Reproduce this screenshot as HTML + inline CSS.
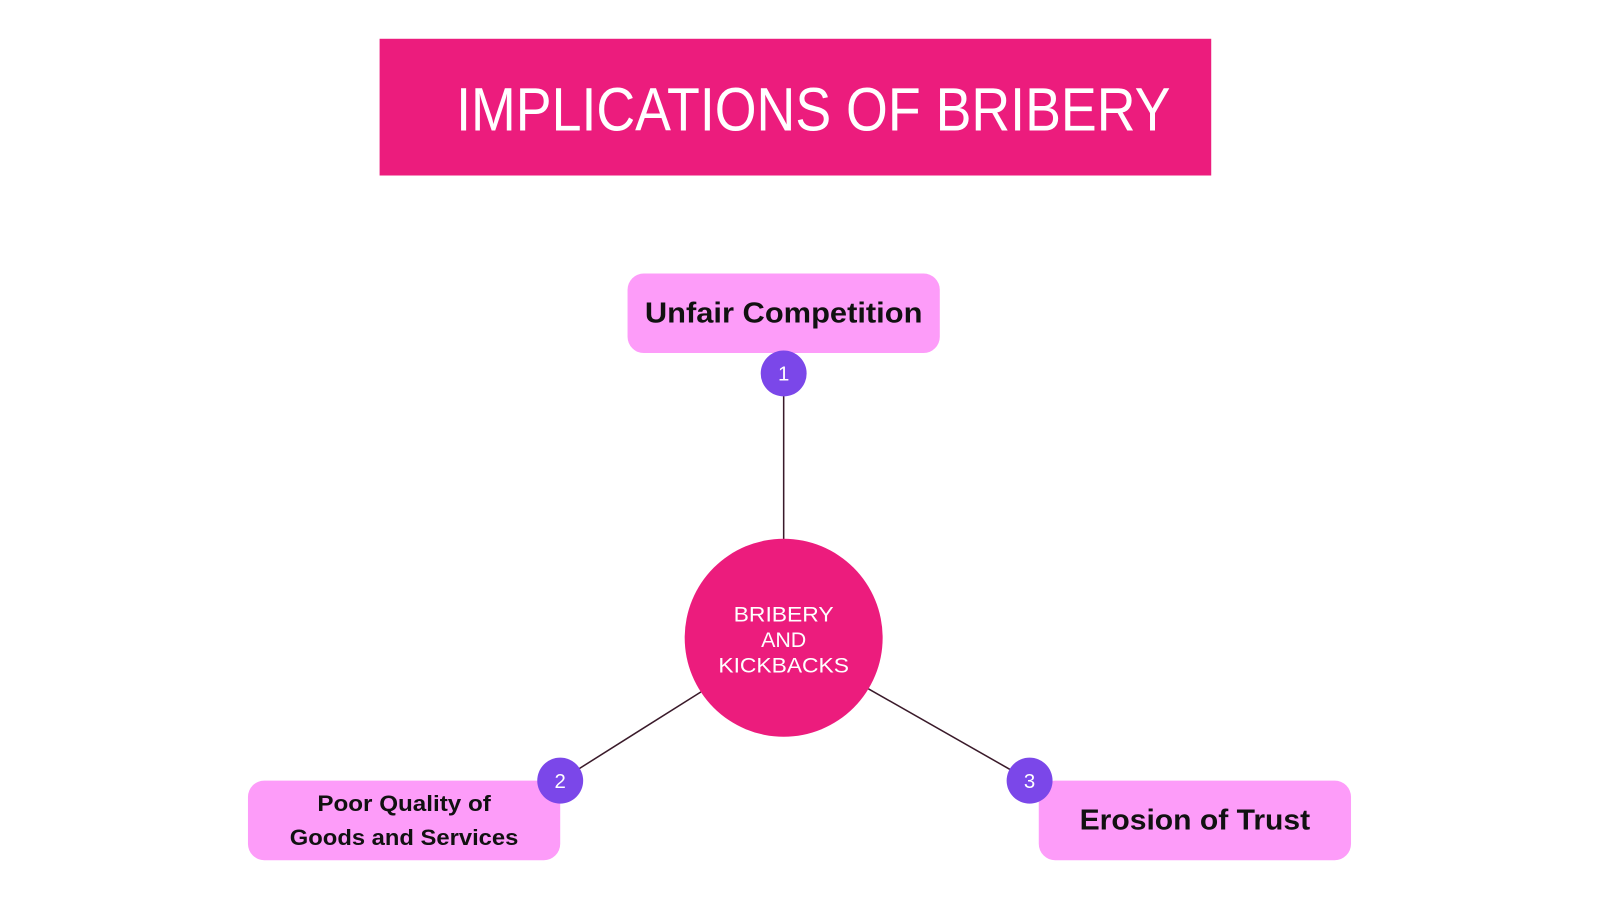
<!DOCTYPE html>
<html><head><meta charset="utf-8"><style>html,body{margin:0;padding:0;background:#fff}</style></head>
<body>
<svg width="1600" height="900" viewBox="0 0 1568 882" xmlns="http://www.w3.org/2000/svg" style="display:block">
<rect x="372" y="38" width="815" height="134" fill="#ec1c7d"/>
<text x="447" y="128" font-family="Liberation Sans, sans-serif" font-size="60" fill="#fff" textLength="700" lengthAdjust="spacingAndGlyphs">IMPLICATIONS OF BRIBERY</text>
<line x1="768" y1="366" x2="768" y2="530" stroke="#3a1a2a" stroke-width="1.5"/>
<line x1="549" y1="765" x2="687" y2="678" stroke="#3a1a2a" stroke-width="1.5"/>
<line x1="1009" y1="765" x2="851" y2="675" stroke="#3a1a2a" stroke-width="1.5"/>
<circle cx="768" cy="625" r="97" fill="#ec1c7d"/>
<g font-family="Liberation Sans, sans-serif" font-size="21" fill="#fff" text-anchor="middle">
<text x="768" y="609" textLength="98" lengthAdjust="spacingAndGlyphs">BRIBERY</text>
<text x="768" y="634">AND</text>
<text x="768" y="659" textLength="128" lengthAdjust="spacingAndGlyphs">KICKBACKS</text>
</g>
<rect x="615" y="268" width="306" height="78" rx="16" fill="#fd9cf9"/>
<rect x="243" y="765" width="306" height="78" rx="16" fill="#fd9cf9"/>
<rect x="1018" y="765" width="306" height="78" rx="16" fill="#fd9cf9"/>
<g font-family="Liberation Sans, sans-serif" font-weight="bold" fill="#111" text-anchor="middle">
<text x="768" y="316" font-size="28" textLength="272" lengthAdjust="spacingAndGlyphs">Unfair Competition</text>
<text x="396" y="795" font-size="22" textLength="170" lengthAdjust="spacingAndGlyphs">Poor Quality of</text>
<text x="396" y="828" font-size="22" textLength="224" lengthAdjust="spacingAndGlyphs">Goods and Services</text>
<text x="1171" y="813" font-size="28" textLength="226" lengthAdjust="spacingAndGlyphs">Erosion of Trust</text>
</g>
<g fill="#7b47e9"><circle cx="768" cy="366" r="22.5"/><circle cx="549" cy="765" r="22.5"/><circle cx="1009" cy="765" r="22.5"/></g>
<g font-family="Liberation Sans, sans-serif" font-size="20" fill="#fff" text-anchor="middle">
<text x="768" y="373">1</text><text x="549" y="772">2</text><text x="1009" y="772">3</text>
</g>
</svg>
</body></html>
